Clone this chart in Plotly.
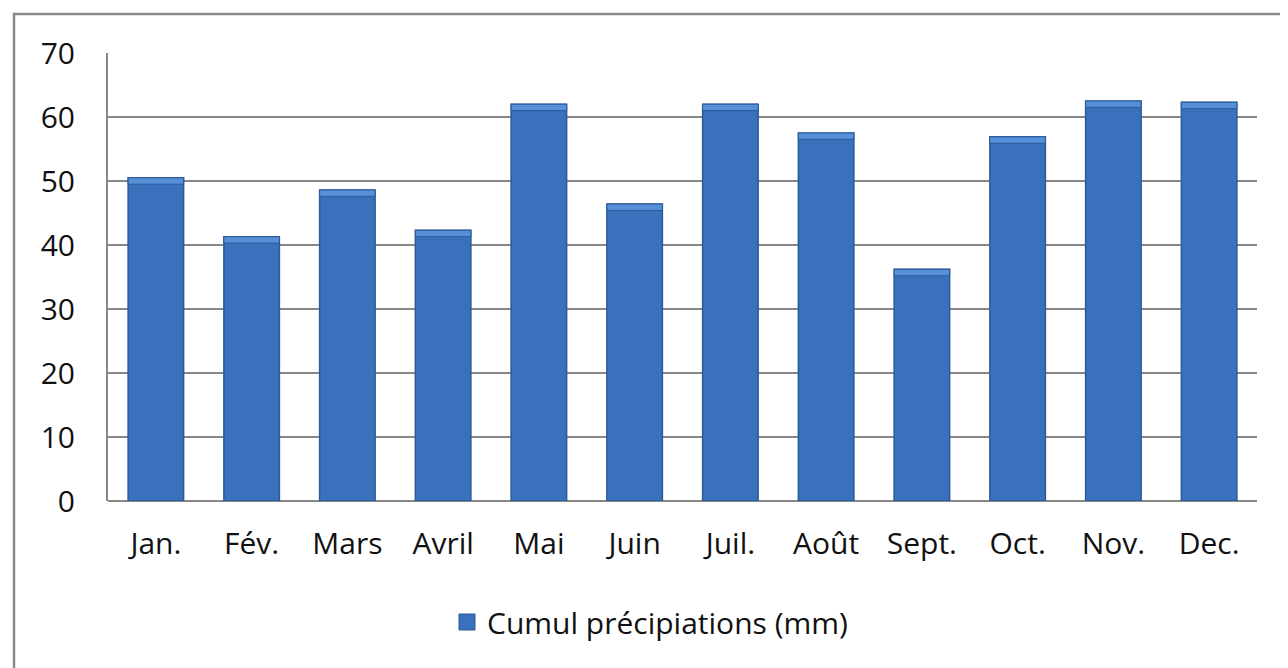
import plotly.graph_objects as go

months = ["Jan.", "Fév.", "Mars", "Avril", "Mai", "Juin", "Juil.", "Août", "Sept.", "Oct.", "Nov.", "Dec."]
precip = [50.5, 41.3, 48.6, 42.3, 62.0, 46.4, 62.0, 57.5, 36.2, 56.9, 62.5, 62.3]
series_name = "Cumul précipiations (mm)"
y_ticks = [0, 10, 20, 30, 40, 50, 60, 70]

W, H = 1288, 668
OFF = 8  # page body margin
L, R, T, B = 108 - OFF, 31 + OFF, 53 - OFF, 167 + OFF
pw, ph = W - L - R, H - T - B

def px_x(p):
    return (p - OFF - L) / pw

def px_y(p):
    return (H - B - (p - OFF)) / ph

FONT = "Open Sans"
FS = 30
cap = 1.0

fig = go.Figure()
fig.add_trace(go.Bar(
    x=months, y=precip, showlegend=False,
    marker=dict(color="#3a71bd", line=dict(color="#2b5a98", width=1.5)),
    hoverinfo="y",
))
fig.add_trace(go.Bar(
    x=months, y=[cap] * len(precip), base=[v - cap for v in precip], showlegend=False,
    marker=dict(color="#5690d8", line=dict(color="#2b5a98", width=1)),
    hoverinfo="skip",
))
fig.add_trace(go.Scatter(
    x=[None], y=[None], mode="markers", name=series_name,
    marker=dict(symbol="square", size=19, color="#3a71bd", line=dict(color="#2b5a98", width=1)),
))

fig.update_layout(
    width=W, height=H,
    margin=dict(l=L, r=R, t=T, b=B),
    paper_bgcolor="white", plot_bgcolor="white",
    barmode="overlay", bargap=0.42,
    font=dict(family=FONT, size=FS, color="#111111"),
    showlegend=True,
    legend=dict(x=px_x(447), y=px_y(622), xanchor="left", yanchor="middle",
                font=dict(size=FS), itemwidth=30, bgcolor="rgba(0,0,0,0)"),
    xaxis=dict(showgrid=False, showline=False, ticks="", tickfont=dict(size=FS),
               ticklabelstandoff=22),
    yaxis=dict(range=[0, 70], tickvals=y_ticks, showgrid=True, gridcolor="#878787", gridwidth=2,
               showline=True, linecolor="#878787", linewidth=2, ticks="",
               zeroline=True, zerolinecolor="#878787", zerolinewidth=2,
               tickfont=dict(size=FS), ticklabelstandoff=25),
    shapes=[dict(type="rect", xref="paper", yref="paper",
                 x0=px_x(14), x1=px_x(1310), y0=px_y(700), y1=px_y(14),
                 line=dict(color="#8a8a8a", width=2.5), layer="below")],
)

fig.write_html("out.html")
